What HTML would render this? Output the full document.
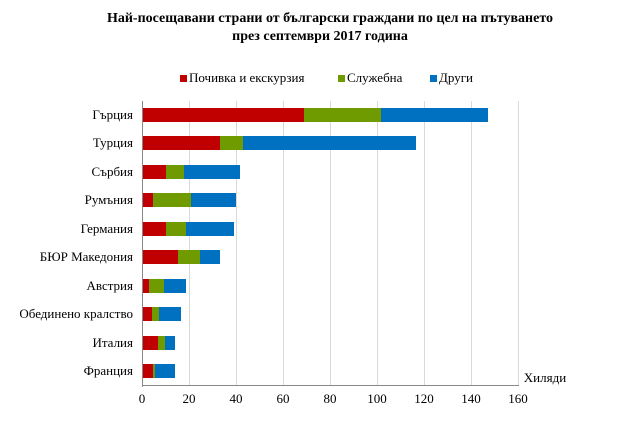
<!DOCTYPE html><html><head><meta charset="utf-8"><style>body{margin:0;background:#fff}</style></head><body>
<svg width="640" height="442" xmlns="http://www.w3.org/2000/svg" font-family="Liberation Serif, serif">
<rect width="640" height="442" fill="#fff"/>
<text x="330" y="22" text-anchor="middle" font-size="14" font-weight="bold">Най-посещавани страни от български граждани по цел на пътуването</text>
<text x="320" y="40" text-anchor="middle" font-size="14" font-weight="bold">през септември 2017 година</text>
<g font-size="13">
<rect x="180" y="75" width="7" height="7" fill="#c00000"/><text x="189" y="82">Почивка и екскурзия</text>
<rect x="338" y="75" width="7" height="7" fill="#6f9a00"/><text x="347" y="82">Служебна</text>
<rect x="430" y="75" width="7" height="7" fill="#0070c0"/><text x="439" y="82">Други</text>
</g>
<g stroke="#d9d9d9" stroke-width="1">
<line x1="189.5" y1="101" x2="189.5" y2="385"/><line x1="236.5" y1="101" x2="236.5" y2="385"/><line x1="283.5" y1="101" x2="283.5" y2="385"/><line x1="330.5" y1="101" x2="330.5" y2="385"/><line x1="377.5" y1="101" x2="377.5" y2="385"/><line x1="424.5" y1="101" x2="424.5" y2="385"/><line x1="471.5" y1="101" x2="471.5" y2="385"/><line x1="518.5" y1="101" x2="518.5" y2="385"/>
</g>
<line x1="142.5" y1="101" x2="142.5" y2="387" stroke="#888"/>
<line x1="142" y1="385.5" x2="519" y2="385.5" stroke="#888"/>
<g>
<rect x="143" y="108" width="161" height="14" fill="#c00000"/><rect x="304" y="108" width="77" height="14" fill="#6f9a00"/><rect x="381" y="108" width="107" height="14" fill="#0070c0"/>
<rect x="143" y="136" width="77" height="14" fill="#c00000"/><rect x="220" y="136" width="23" height="14" fill="#6f9a00"/><rect x="243" y="136" width="173" height="14" fill="#0070c0"/>
<rect x="143" y="165" width="23" height="14" fill="#c00000"/><rect x="166" y="165" width="18" height="14" fill="#6f9a00"/><rect x="184" y="165" width="56" height="14" fill="#0070c0"/>
<rect x="143" y="193" width="10" height="14" fill="#c00000"/><rect x="153" y="193" width="38" height="14" fill="#6f9a00"/><rect x="191" y="193" width="45" height="14" fill="#0070c0"/>
<rect x="143" y="222" width="23" height="14" fill="#c00000"/><rect x="166" y="222" width="20" height="14" fill="#6f9a00"/><rect x="186" y="222" width="48" height="14" fill="#0070c0"/>
<rect x="143" y="250" width="35" height="14" fill="#c00000"/><rect x="178" y="250" width="22" height="14" fill="#6f9a00"/><rect x="200" y="250" width="20" height="14" fill="#0070c0"/>
<rect x="143" y="279" width="6" height="14" fill="#c00000"/><rect x="149" y="279" width="15" height="14" fill="#6f9a00"/><rect x="164" y="279" width="22" height="14" fill="#0070c0"/>
<rect x="143" y="307" width="9" height="14" fill="#c00000"/><rect x="152" y="307" width="7" height="14" fill="#6f9a00"/><rect x="159" y="307" width="22" height="14" fill="#0070c0"/>
<rect x="143" y="336" width="15" height="14" fill="#c00000"/><rect x="158" y="336" width="7" height="14" fill="#6f9a00"/><rect x="165" y="336" width="10" height="14" fill="#0070c0"/>
<rect x="143" y="364" width="10" height="14" fill="#c00000"/><rect x="153" y="364" width="2" height="14" fill="#6f9a00"/><rect x="155" y="364" width="20" height="14" fill="#0070c0"/>
</g>
<g font-size="13" text-anchor="end">
<text x="133" y="119">Гърция</text><text x="133" y="147">Турция</text><text x="133" y="176">Сърбия</text><text x="133" y="204">Румъния</text><text x="133" y="233">Германия</text><text x="133" y="261">БЮР Македония</text><text x="133" y="290">Австрия</text><text x="133" y="318">Обединено кралство</text><text x="133" y="347">Италия</text><text x="133" y="375">Франция</text>
</g>
<g font-size="13" text-anchor="middle">
<text x="142" y="403">0</text><text x="189" y="403">20</text><text x="236" y="403">40</text><text x="283" y="403">60</text><text x="330" y="403">80</text><text x="377" y="403">100</text><text x="424" y="403">120</text><text x="471" y="403">140</text><text x="518" y="403">160</text>
</g>
<text x="545" y="382" font-size="13" text-anchor="middle">Хиляди</text>
</svg></body></html>
